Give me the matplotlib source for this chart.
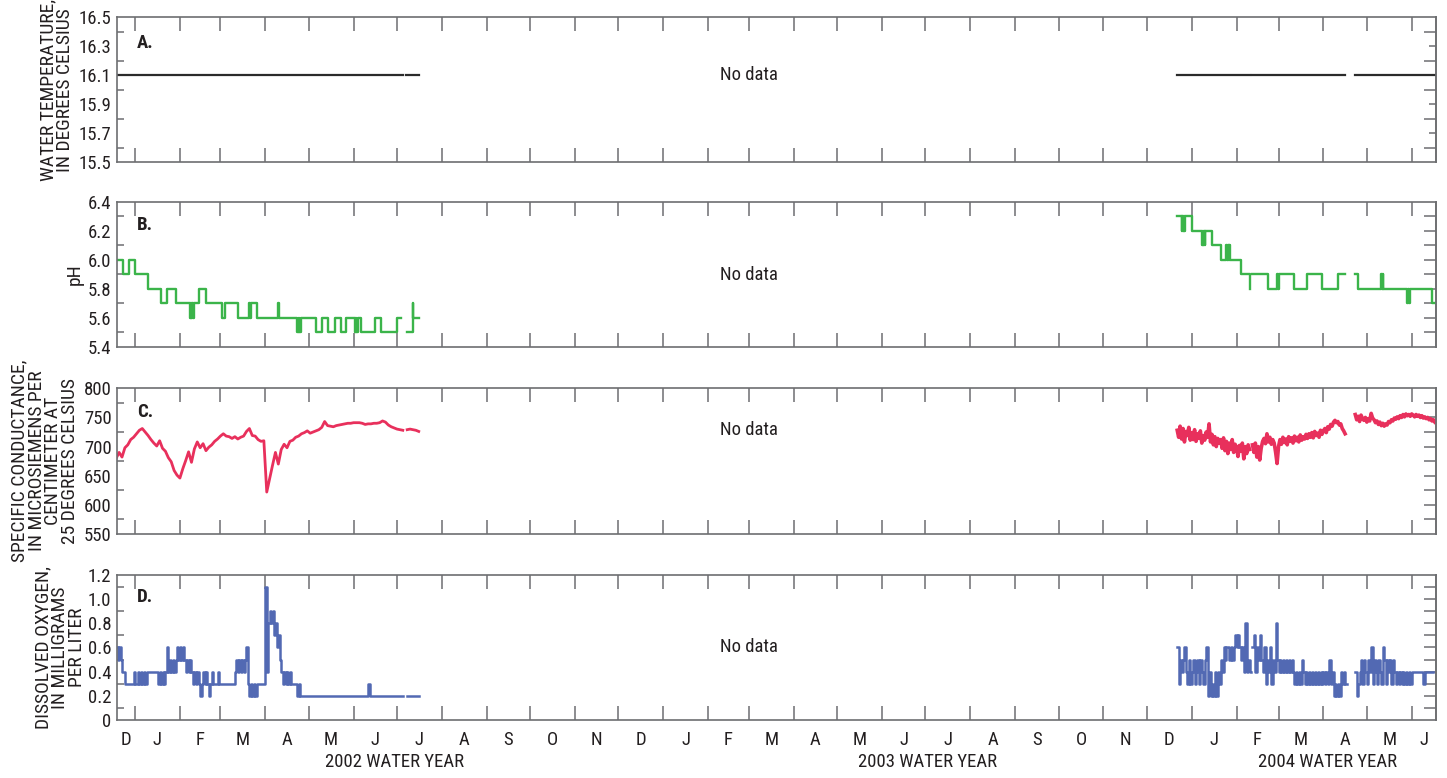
import matplotlib.pyplot as plt
import matplotlib.dates as mdates
import matplotlib.transforms as mtransforms
from matplotlib.ticker import NullFormatter
import pandas as pd

plt.rcParams['font.family'] = ['Liberation Sans Narrow', 'Roboto Condensed', 'DejaVu Sans']
plt.rcParams['font.stretch'] = 'condensed'

# ---------------- data ----------------
x_start = '2001-12-19 14:00'
x_end = '2004-06-17 19:00'

# A. water temperature, constant reading in each record period
temp_starts = ['2001-12-19', '2002-07-07', '2003-12-22', '2004-02-12', '2004-04-23']
temp_ends = ['2002-07-05', '2002-07-16', '2004-02-10', '2004-04-16', '2004-06-18']
temp_value = 16.1

# B. pH, step changes (date of change, new value); last entry = end of record
ph_dates_2002a = ['2001-12-19', '2001-12-24', '2001-12-28', '2002-01-01', '2002-01-10',
                  '2002-01-19', '2002-01-23', '2002-01-29', '2002-02-08', '2002-02-08 12:00',
                  '2002-02-09', '2002-02-09 12:00', '2002-02-10', '2002-02-10 12:00', '2002-02-14',
                  '2002-02-19', '2002-03-02', '2002-03-04', '2002-03-13', '2002-03-21',
                  '2002-03-21 12:00', '2002-03-22', '2002-03-26', '2002-04-10', '2002-04-10 08:00',
                  '2002-04-23', '2002-04-24', '2002-04-24 12:00', '2002-04-26', '2002-05-06',
                  '2002-05-10', '2002-05-14', '2002-05-19', '2002-05-23', '2002-05-27',
                  '2002-06-02', '2002-06-02 12:00', '2002-06-03', '2002-06-04', '2002-06-06',
                  '2002-06-16', '2002-06-20', '2002-07-01', '2002-07-04']
ph_values_2002a = [6.0, 5.9, 6.0, 5.9, 5.8,
                   5.7, 5.8, 5.7, 5.6, 5.7,
                   5.6, 5.7, 5.6, 5.7, 5.8,
                   5.7, 5.6, 5.7, 5.6, 5.7,
                   5.6, 5.7, 5.6, 5.7, 5.6,
                   5.5, 5.6, 5.5, 5.6, 5.5,
                   5.6, 5.5, 5.6, 5.5, 5.6,
                   5.5, 5.6, 5.5, 5.6, 5.5,
                   5.6, 5.5, 5.6, 5.6]
ph_dates_2002b = ['2002-07-08', '2002-07-12', '2002-07-12 06:00', '2002-07-16']
ph_values_2002b = [5.5, 5.7, 5.6, 5.6]

ph_dates_2004a = ['2003-12-22', '2003-12-25', '2003-12-25 12:00', '2003-12-26', '2003-12-26 12:00',
                  '2003-12-27', '2003-12-27 12:00', '2004-01-01', '2004-01-08', '2004-01-08 12:00',
                  '2004-01-09', '2004-01-09 12:00', '2004-01-10', '2004-01-10 12:00', '2004-01-15',
                  '2004-01-21', '2004-01-25', '2004-01-25 12:00', '2004-01-26', '2004-01-26 12:00',
                  '2004-01-27', '2004-01-27 12:00', '2004-02-04', '2004-02-10', '2004-02-10 06:00']
ph_values_2004a = [6.3, 6.2, 6.3, 6.2, 6.3,
                   6.2, 6.3, 6.2, 6.1, 6.2,
                   6.1, 6.2, 6.1, 6.2, 6.1,
                   6.0, 6.1, 6.0, 6.1, 6.0,
                   6.1, 6.0, 5.9, 5.8, 5.8]
ph_dates_2004b = ['2004-02-12', '2004-02-23', '2004-02-29', '2004-02-29 12:00', '2004-03-01',
                  '2004-03-12', '2004-03-21', '2004-03-31', '2004-04-11', '2004-04-16']
ph_values_2004b = [5.9, 5.8, 5.9, 5.8, 5.9,
                   5.8, 5.9, 5.8, 5.9, 5.9]
ph_dates_2004c = ['2004-04-23', '2004-04-25', '2004-05-11', '2004-05-11 12:00', '2004-05-12',
                  '2004-05-12 12:00', '2004-05-29', '2004-05-29 12:00', '2004-05-30', '2004-05-30 12:00',
                  '2004-06-15', '2004-06-18']
ph_values_2004c = [5.9, 5.8, 5.9, 5.8, 5.9,
                   5.8, 5.7, 5.8, 5.7, 5.8,
                   5.7, 5.7]

# C. specific conductance: 2002 every second day, 2004 daily
sc_start_2002a = '2001-12-19'
sc_2002a = [680, 690, 682, 698, 703, 712, 716, 722, 728, 731,
            725, 719, 712, 706, 701, 710, 697, 692, 681, 674,
            659, 651, 646, 662, 676, 691, 673, 696, 708, 698,
            705, 693, 699, 703, 709, 713, 718, 722, 718, 717,
            714, 717, 713, 716, 718, 726, 731, 719, 718, 712,
            709, 710, 622, 645, 668, 690, 670, 695, 704, 698,
            709, 711, 716, 718, 722, 724, 727, 723, 725, 727,
            729, 733, 743, 736, 735, 734, 736, 737, 738, 739,
            740, 740, 741, 741, 741, 740, 738, 739, 739, 740,
            740, 741, 744, 742, 737, 734, 732, 730, 729, 728]
sc_start_2002b = '2002-07-08'
sc_2002b = [729, 730, 729, 728, 726]
sc_start_2004a = '2003-12-22'
sc_2004a = [728, 716, 735, 713, 731, 708, 726, 719, 733, 711,
            724, 712, 729, 709, 722, 714, 727, 706, 719, 711,
            725, 716, 739, 708, 721, 703, 717, 700, 714, 706,
            712, 697, 715, 693, 709, 688, 706, 695, 712, 690, 704,
            698, 683, 702, 692, 706, 679, 700, 688, 703, 695]
sc_start_2004b = '2004-02-12'
sc_2004b = [703, 690, 706, 682, 700, 677, 697, 709, 714, 705,
            722, 708, 716, 704, 712, 706, 690, 671,
            700, 712, 704, 716, 707, 713, 703, 717, 709, 715,
            706, 718, 710, 716, 708, 720, 711, 717, 713, 721,
            714, 722, 716, 724, 715, 726, 719, 723, 716, 728, 721,
            727, 731, 724, 734, 730, 738, 735, 742, 745, 741,
            743, 737, 739, 731, 727, 722]
sc_start_2004c = '2004-04-23'
sc_2004c = [755, 746, 752, 743, 754, 748, 745, 750,
            742, 748, 744, 757, 749, 746, 741, 744, 738, 742,
            736, 740, 735, 739, 737, 743, 741, 746, 744, 749,
            747, 751, 748, 753, 750, 755, 751, 756, 753, 755, 752,
            756, 754, 751, 755, 752, 754, 750, 753, 749, 751,
            748, 750, 746, 748, 744, 746, 742]

# D. dissolved oxygen, daily
do_start_2002a = '2001-12-19'
do_2002a = [0.6, 0.5, 0.6, 0.5, 0.4, 0.4, 0.3, 0.3, 0.3, 0.3, 0.3, 0.3, 0.4,
            # Jan
            0.3, 0.3, 0.4, 0.3, 0.4, 0.3, 0.4, 0.3, 0.4, 0.4, 0.4, 0.4, 0.4, 0.4,
            0.4, 0.4, 0.3, 0.4, 0.3, 0.4, 0.3, 0.4, 0.6, 0.4, 0.5, 0.4, 0.5, 0.4,
            0.5, 0.6, 0.5,
            # Feb
            0.6, 0.5, 0.6, 0.5, 0.4, 0.5, 0.4, 0.5, 0.4, 0.3, 0.4, 0.3, 0.4, 0.3,
            0.2, 0.3, 0.4, 0.3, 0.4, 0.3, 0.2, 0.3, 0.4, 0.3, 0.3, 0.3, 0.4, 0.3,
            # Mar
            0.3, 0.3, 0.3, 0.3, 0.3, 0.3, 0.3, 0.3, 0.3, 0.3, 0.4, 0.5, 0.4, 0.5,
            0.4, 0.5, 0.4, 0.5, 0.6, 0.3, 0.2, 0.3, 0.2, 0.3, 0.2, 0.3, 0.3, 0.3,
            0.3, 0.3, 0.3,
            # Apr
            1.1, 0.4, 0.8, 0.9, 0.8, 0.9, 0.7, 0.8, 0.6, 0.7, 0.5, 0.4, 0.3, 0.4,
            0.3, 0.4, 0.3, 0.4, 0.3, 0.3, 0.3, 0.3, 0.2, 0.3, 0.2, 0.2, 0.2, 0.2,
            0.2, 0.2,
            # May
            0.2, 0.2, 0.2, 0.2, 0.2, 0.2, 0.2, 0.2, 0.2, 0.2, 0.2, 0.2, 0.2, 0.2,
            0.2, 0.2, 0.2, 0.2, 0.2, 0.2, 0.2, 0.2, 0.2, 0.2, 0.2, 0.2, 0.2, 0.2,
            0.2, 0.2, 0.2,
            # Jun
            0.2, 0.2, 0.2, 0.2, 0.2, 0.2, 0.2, 0.2, 0.2, 0.2, 0.3, 0.2, 0.2, 0.2,
            0.2, 0.2, 0.2, 0.2, 0.2, 0.2, 0.2, 0.2, 0.2, 0.2, 0.2, 0.2, 0.2, 0.2,
            0.2, 0.2,
            # Jul
            0.2, 0.2, 0.2, 0.2, 0.2]
do_start_2002b = '2002-07-08'
do_2002b = [0.2, 0.2, 0.2, 0.2, 0.2, 0.2, 0.2, 0.2, 0.2]
do_start_2004a = '2003-12-22'
do_2004a = [0.6, 0.3, 0.5, 0.4, 0.5, 0.6, 0.4, 0.3, 0.5, 0.3,
            # Jan
            0.4, 0.5, 0.3, 0.4, 0.5, 0.3, 0.5, 0.4, 0.3, 0.5, 0.6, 0.2, 0.4, 0.2,
            0.3, 0.2, 0.4, 0.2, 0.4, 0.3, 0.5, 0.4, 0.6, 0.5, 0.6, 0.6, 0.5, 0.6,
            0.5, 0.6, 0.7,
            # Feb 1-10
            0.6, 0.7, 0.6, 0.5, 0.6, 0.4, 0.8, 0.4, 0.5, 0.4, 0.4]
do_start_2004b = '2004-02-12'
do_2004b = [0.6, 0.7, 0.4, 0.6, 0.5, 0.7, 0.5,
            0.4, 0.6, 0.3, 0.5, 0.4, 0.6, 0.3, 0.5, 0.4, 0.8, 0.5,
            # Mar
            0.4, 0.5, 0.4, 0.5, 0.4, 0.5, 0.4, 0.5, 0.4, 0.5, 0.4,
            0.3, 0.4, 0.3, 0.4, 0.3, 0.5, 0.4,
            0.3, 0.4, 0.3, 0.4, 0.3, 0.4, 0.3, 0.4, 0.3, 0.4, 0.3, 0.4, 0.3,
            # Apr 1-16
            0.4, 0.3, 0.4, 0.3, 0.5, 0.3, 0.4, 0.2, 0.3, 0.2, 0.3, 0.2, 0.4, 0.3,
            0.4, 0.3, 0.3]
do_start_2004c = '2004-04-23'
do_2004c = [0.4, 0.2, 0.3, 0.4, 0.5, 0.3, 0.5, 0.4,
            # May
            0.3, 0.5, 0.4, 0.6, 0.3, 0.5, 0.4, 0.3, 0.5, 0.4, 0.3, 0.6, 0.5, 0.3,
            0.5, 0.4, 0.5, 0.3, 0.5, 0.4, 0.3, 0.4, 0.3, 0.4, 0.3, 0.4, 0.3, 0.4,
            0.3,
            # Jun
            0.4, 0.3, 0.4, 0.4, 0.4, 0.4, 0.4, 0.4, 0.4, 0.4, 0.3, 0.4, 0.4, 0.4,
            0.4, 0.4, 0.4, 0.4]

# axis ticks
temp_ticks = [15.5, 15.7, 15.9, 16.1, 16.3, 16.5]
temp_minor = [15.6, 15.8, 16.0, 16.2, 16.4]
ph_ticks = [5.4, 5.6, 5.8, 6.0, 6.2, 6.4]
ph_minor = [5.5, 5.7, 5.9, 6.1, 6.3]
sc_ticks = [550, 600, 650, 700, 750, 800]
sc_minor = [575, 625, 675, 725, 775]
do_ticks = [0, 0.2, 0.4, 0.6, 0.8, 1.0, 1.2]
do_labels = ['0', '0.2', '0.4', '0.6', '0.8', '1.0', '1.2']
do_minor = [0.1, 0.3, 0.5, 0.7, 0.9, 1.1]

water_years = ['2002 WATER YEAR', '2003 WATER YEAR', '2004 WATER YEAR']

# ---------------- style ----------------
txt = '#231f20'
spine_c = '#6d6e71'
fs = 13.5
fs_lab = 14
c_temp = '#2b2b2b'
c_ph = '#3bb44a'
c_sc = '#e8305c'
c_do = '#5269b3'

fig = plt.figure(figsize=(14.47, 7.78), dpi=100)
left, width = 0.0809, 0.9115
boxes = [(0.7914, 0.1864), (0.5544, 0.1864), (0.3136, 0.1873), (0.0746, 0.1864)]
axes = [fig.add_axes([left, b, width, h]) for b, h in boxes]
xlim = (pd.Timestamp(x_start), pd.Timestamp(x_end))


def style(ax, ylim, ticks, labels, minor, right_major, right_minor):
    ax.set_xlim(*xlim)
    ax.set_ylim(*ylim)
    for s in ax.spines.values():
        s.set_color(spine_c)
        s.set_linewidth(1.2)
    ax.xaxis.set_major_locator(mdates.MonthLocator())
    ax.tick_params(axis='x', which='major', direction='in', length=10, width=1.1,
                   color=spine_c, top=True, bottom=True, labelbottom=False)
    ax.set_yticks(ticks, labels)
    ax.set_yticks(minor, minor=True)
    ax.tick_params(axis='y', which='major', length=0, pad=4, labelsize=fs,
                   labelcolor=txt, left=True, right=False)
    ax.tick_params(axis='y', which='minor', direction='in', length=5, width=1.1,
                   color=spine_c, left=True, right=False)
    sec = ax.secondary_yaxis('right')
    sec.set_yticks(right_major)
    sec.set_yticks(right_minor, minor=True)
    sec.yaxis.set_major_formatter(NullFormatter())
    sec.yaxis.set_minor_formatter(NullFormatter())
    sec.tick_params(which='major', direction='in', length=9, width=1.1, color=spine_c)
    sec.tick_params(which='minor', direction='in', length=5, width=1.1, color=spine_c)
    sec.spines['right'].set_color(spine_c)
    sec.spines['right'].set_linewidth(1.2)


axA, axB, axC, axD = axes

# A
for s, e in zip(temp_starts, temp_ends):
    axA.plot([pd.Timestamp(s), pd.Timestamp(e)], [temp_value, temp_value], color=c_temp, lw=1.6)
style(axA, (15.5, 16.5), temp_ticks, [f'{t:.1f}' for t in temp_ticks], temp_minor,
      temp_minor, temp_ticks[1:-1])

# B
for d, v in [(ph_dates_2002a, ph_values_2002a), (ph_dates_2002b, ph_values_2002b),
             (ph_dates_2004a, ph_values_2004a), (ph_dates_2004b, ph_values_2004b),
             (ph_dates_2004c, ph_values_2004c)]:
    axB.plot(pd.to_datetime(d, format='mixed'), v, color=c_ph, lw=1.7, drawstyle='steps-post')
style(axB, (5.4, 6.4), ph_ticks, [f'{t:.1f}' for t in ph_ticks], ph_minor,
      sorted(ph_ticks[1:-1] + ph_minor), [])

# C
for st, v, fr, w in [(sc_start_2002a, sc_2002a, '2D', 2.0), (sc_start_2002b, sc_2002b, '2D', 2.0),
                     (sc_start_2004a, sc_2004a, 'D', 2.6), (sc_start_2004b, sc_2004b, 'D', 2.6),
                     (sc_start_2004c, sc_2004c, 'D', 2.6)]:
    axC.plot(pd.date_range(st, periods=len(v), freq=fr), v, color=c_sc, lw=w)
style(axC, (550, 800), sc_ticks, [str(t) for t in sc_ticks], sc_minor,
      sorted(sc_ticks[1:-1] + sc_minor), [])

# D
for st, v in [(do_start_2002a, do_2002a), (do_start_2002b, do_2002b), (do_start_2004a, do_2004a),
              (do_start_2004b, do_2004b), (do_start_2004c, do_2004c)]:
    axD.plot(pd.date_range(st, periods=len(v), freq='D'), v, color=c_do, lw=1.8,
             drawstyle='steps-post')
style(axD, (0, 1.2), do_ticks, do_labels, do_minor, sorted(do_ticks[1:-1] + do_minor), [])

# labels
ylabels = ['WATER TEMPERATURE,\nIN DEGREES CELSIUS', 'pH',
           'SPECIFIC CONDUCTANCE,\nIN MICROSIEMENS PER\nCENTIMETER AT\n25 DEGREES CELSIUS',
           'DISSOLVED OXYGEN,\nIN MILLIGRAMS\nPER LITER']
ylabel_x = [-0.0455, -0.0318, -0.0546, -0.0432]
letters = ['A.', 'B.', 'C.', 'D.']
letter_y = [0.82, 0.84, 0.84, 0.85]
nodata_y = [0.60, 0.495, 0.714, 0.50]
for ax, lab, lx, let, ly, ny in zip(axes, ylabels, ylabel_x, letters, letter_y, nodata_y):
    ax.text(lx, 0.5, lab, transform=ax.transAxes, rotation=90, ha='center', va='center',
            multialignment='center', fontsize=fs_lab, color=txt, linespacing=0.92)
    ax.text(0.015, ly, let, transform=ax.transAxes, fontsize=fs, fontweight='bold',
            color=txt, va='center', ha='left')
    ax.text(0.479, ny, 'No data', transform=ax.transAxes, fontsize=fs, color=txt,
            ha='center', va='center')

# month letters centred on the visible part of each month
trans = mtransforms.blended_transform_factory(axD.transData, axD.transAxes)
for m in pd.date_range('2001-12-01', '2004-06-01', freq='MS'):
    a = max(m, xlim[0])
    b = min(m + pd.offsets.MonthBegin(1), xlim[1])
    axD.text(a + (b - a) / 2, -0.135, m.strftime('%B')[0], transform=trans,
             ha='center', va='center', fontsize=fs, color=txt)

for wy, fx in zip(water_years, [0.2723, 0.641, 0.9174]):
    fig.text(fx, 0.0206, wy, ha='center', va='center', fontsize=fs, color=txt)

fig.savefig('out.png', dpi=100)
